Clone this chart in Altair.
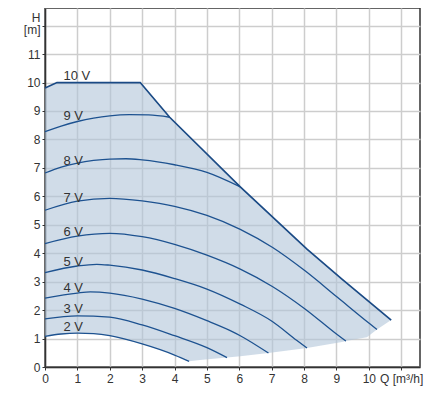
import altair as alt
import pandas as pd

# ---- pump curves (Q in m³/h, H in m) ----
q2 = [0, 0.5, 1, 1.5, 2, 3, 4, 4.45]
h2 = [1.08, 1.16, 1.19, 1.17, 1.10, 0.81, 0.42, 0.20]
q3 = [0, 1, 2, 3, 4, 5, 5.62]
h3 = [1.69, 1.80, 1.75, 1.48, 1.10, 0.68, 0.33]
q4 = [0, 1, 1.4, 2, 3, 4, 5, 5.72, 6.03, 6.9]
h4 = [2.42, 2.60, 2.64, 2.60, 2.39, 2.06, 1.63, 1.28, 1.10, 0.49]
q5 = [0, 1, 1.6, 2, 3, 4, 5, 6.03, 7.02, 7.78, 8.09]
h5 = [3.32, 3.55, 3.61, 3.58, 3.41, 3.11, 2.74, 2.21, 1.60, 0.93, 0.67]
q6 = [0, 1, 2, 3, 4, 5, 6.03, 7.02, 8.03, 9.03, 9.29]
h6 = [4.34, 4.60, 4.70, 4.58, 4.31, 3.93, 3.44, 2.83, 2.04, 1.13, 0.91]
q7 = [0, 1, 2, 3, 4, 5, 6.03, 7.03, 8.03, 9.03, 10.04, 10.25]
h7 = [5.51, 5.83, 5.93, 5.84, 5.65, 5.33, 4.84, 4.20, 3.38, 2.45, 1.51, 1.32]
q8 = [0, 0.5, 1, 1.5, 2, 2.5, 3, 4, 5, 6.03]
h8 = [6.82, 7.03, 7.17, 7.26, 7.31, 7.32, 7.28, 7.11, 6.84, 6.33]
q9 = [0, 0.5, 1, 1.5, 2, 2.6, 3.2, 3.85]
h9 = [8.27, 8.47, 8.63, 8.75, 8.83, 8.87, 8.86, 8.78]

# 10 V / maximum boundary
max_q = [0, 0.37, 2.94, 3.85, 6.03, 8.09, 9.17, 10.69]
max_h = [9.81, 10.0, 10.0, 8.78, 6.33, 4.14, 3.09, 1.65]

# shaded operating range
env_q = [0, 0.37, 1.0, 1.5, 2.0, 2.94, 3.5, 3.85, 4.0, 4.45, 4.79, 5.62, 6.03, 6.9, 8.09, 9.17, 9.29, 9.94, 10.25, 10.69]
env_top = [9.81, 10.0, 10.0, 10.0, 10.0, 10.0, 9.25, 8.78, 8.61, 8.10, 7.68, 6.78, 6.33, 5.41, 4.14, 3.09, 2.98, 2.36, 2.07, 1.65]
env_bot = [1.08, 1.15, 1.19, 1.17, 1.10, 0.83, 0.63, 0.48, 0.42, 0.20, 0.25, 0.33, 0.38, 0.49, 0.67, 0.88, 0.91, 1.05, 1.32, 1.65]

# curve labels
label_text = ["10 V", "9 V", "8 V", "7 V", "6 V", "5 V", "4 V", "3 V", "2 V"]
label_q = [0.57, 0.57, 0.57, 0.57, 0.57, 0.57, 0.57, 0.57, 0.57]
label_h = [10.08, 8.68, 7.11, 5.79, 4.60, 3.55, 2.64, 1.89, 1.25]

x_ticks = list(range(12))
y_ticks = list(range(13))

FONT = "Liberation Sans"
LINE = "#1d5290"

curves = {"2 V": (q2, h2), "3 V": (q3, h3), "4 V": (q4, h4), "5 V": (q5, h5),
          "6 V": (q6, h6), "7 V": (q7, h7), "8 V": (q8, h8), "9 V": (q9, h9)}
rows = []
for name, (qs, hs) in curves.items():
    for i, (q, h) in enumerate(zip(qs, hs)):
        rows.append({"v": name, "q": q, "h": h, "i": i})
curves_df = pd.DataFrame(rows)
max_df = pd.DataFrame({"q": max_q, "h": max_h, "i": list(range(len(max_q)))})
env_df = pd.DataFrame({"q": env_q, "h": env_top, "bot": env_bot})
lab_df = pd.DataFrame({"t": label_text, "q": label_q, "h": label_h})

xs = alt.Scale(domain=[0, 11.58], nice=False, zero=False)
ys = alt.Scale(domain=[0, 12.62], nice=False, zero=False)

x_axis = alt.Axis(values=x_ticks, title=None, grid=True, labelFlush=False, labelOverlap=False,
                  labelExpr="datum.value == 11 ? 'Q [m³/h]' : datum.label",
                  tickSize=3, labelPadding=3)
y_axis = alt.Axis(values=y_ticks, title=None, grid=True, labelFlush=False, labelOverlap=False,
                  labelExpr="datum.value == 12 ? ['H\u00a0', '[m]'] : datum.label",
                  labelLineHeight=12,
                  labelOffset={"condition": {"test": "datum.value == 12", "value": -8}, "value": 0},
                  tickSize=3, labelPadding=2)

X = alt.X("q:Q", scale=xs, axis=x_axis)
Y = alt.Y("h:Q", scale=ys, axis=y_axis)

area = alt.Chart(env_df).mark_area(color="#b1c5d9", opacity=0.6).encode(
    x=X, y=Y, y2="bot:Q",
)

lines = alt.Chart(curves_df).mark_line(color=LINE, strokeWidth=1.3, interpolate="monotone").encode(
    x=X, y=Y, detail="v:N", order="i:Q",
)

boundary = alt.Chart(max_df).mark_line(color="#1a4a85", strokeWidth=1.7).encode(
    x=X, y=Y, order="i:Q",
)

labels = alt.Chart(lab_df).mark_text(align="left", baseline="alphabetic", font=FONT,
                                     fontSize=13, color="#333333").encode(
    x=X, y=Y, text="t:N",
)

chart = alt.layer(area, lines, boundary, labels).properties(
    width=375, height=359,
    autosize=alt.AutoSizeParams(type="none"),
    padding={"left": 37, "top": 0, "right": 5, "bottom": 20},
).configure_axis(
    labelFont=FONT, labelFontSize=12, labelColor="#333333",
    gridColor="#cdcdcd", gridWidth=1.5,
    domainColor="#333333", domainWidth=1.5, tickColor="#333333",
).configure_view(stroke="#333333", strokeWidth=1.5)

chart.save("out.html", embed_options={"renderer": "svg", "actions": False})
